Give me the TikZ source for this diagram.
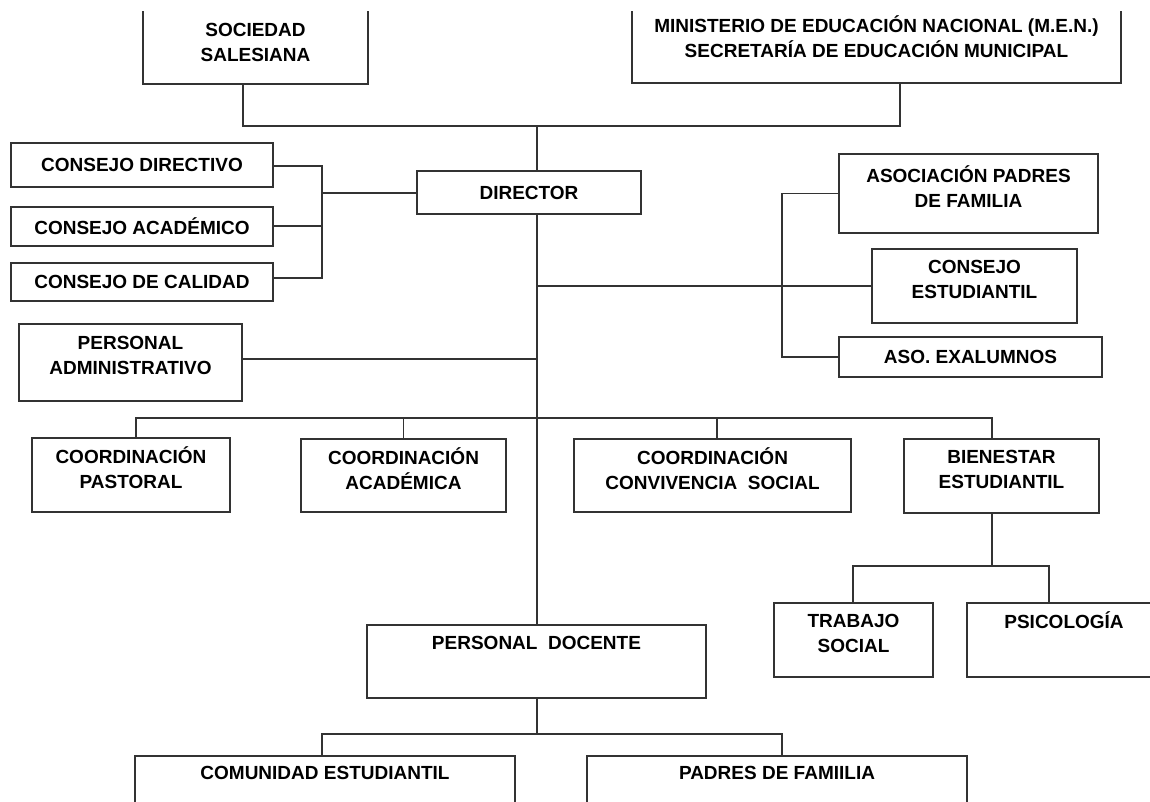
\documentclass[tikz,border=0pt]{standalone}
\usepackage{fontspec}
\setmainfont{Liberation Sans}
\usepackage{tikz}

\begin{document}
\begin{tikzpicture}[x=1pt,y=-1pt,
org/.style={draw=black!80, line width=1.2pt, rectangle, inner sep=0pt,
    align=center, font=\fontsize{19}{25}\selectfont\bfseries},
toptext/.style={text height=13pt, text depth=#1},
twoline/.style={text depth=14pt},
link/.style={draw=black!80, line width=1.2pt}]
\useasboundingbox (0,0) rectangle (1150,802);
\clip (0,11.5) rectangle (1150,802);

% top level
\node (soc) [org, minimum width=225, minimum height=83] at (255.5,42.5) {SOCIEDAD\\SALESIANA};
\node (men) [org, minimum width=489, minimum height=92] at (876.5,37)
	{MINISTERIO DE EDUCACIÓN NACIONAL (M.E.N.)\\SECRETARÍA DE EDUCACIÓN MUNICIPAL};

% consejos and director
\node (cdir) [org, minimum width=262, minimum height=44] at (142,165) {CONSEJO DIRECTIVO};
\node (cacad) [org, minimum width=262, minimum height=39] at (142,226.5) {CONSEJO ACADÉMICO};
\node (ccal) [org, minimum width=262, minimum height=38] at (142,282) {CONSEJO DE CALIDAD};
\node (dir) [org, minimum width=224, minimum height=43] at (529,192.5) {DIRECTOR};

% right side
\node (apf) [org, twoline, minimum width=259, minimum height=79] at (968.5,193.5) {ASOCIACIÓN PADRES\\DE FAMILIA};
\node (cest) [org, twoline, minimum width=205, minimum height=74] at (974.5,286) {CONSEJO\\ESTUDIANTIL};
\node (exa) [org, minimum width=263, minimum height=40] at (970.5,357) {ASO. EXALUMNOS};
\node (padm) [org, twoline, minimum width=223, minimum height=77] at (130.5,362.5) {PERSONAL\\ADMINISTRATIVO};

% coordinaciones
\node (cpas) [org, twoline, minimum width=198, minimum height=74] at (131,475) {COORDINACIÓN\\PASTORAL};
\node (caca) [org, twoline, minimum width=205, minimum height=73] at (403.5,475.5) {COORDINACIÓN\\ACADÉMICA};
\node (cconv) [org, twoline, minimum width=277, minimum height=73] at (712.5,475.5) {COORDINACIÓN\\CONVIVENCIA~~SOCIAL};
\node (bien) [org, twoline, minimum width=195, minimum height=74] at (1001.5,476) {BIENESTAR\\ESTUDIANTIL};
\node (tsoc) [org, twoline, minimum width=159, minimum height=74] at (853.5,640) {TRABAJO\\SOCIAL};
\node (psi) [org, toptext=36pt, minimum width=194, minimum height=74] at (1064,640) {PSICOLOGÍA};

% docentes
\node (pdoc) [org, toptext=37pt, minimum width=339, minimum height=73] at (536.5,661.5) {PERSONAL~~DOCENTE};
\node (comu) [org, toptext=40pt, minimum width=380, minimum height=74] at (325,793) {COMUNIDAD ESTUDIANTIL};
\node (padres) [org, toptext=40pt, minimum width=380, minimum height=74] at (777,793) {PADRES DE FAMIILIA};

\coordinate (top) at (537,126);
\coordinate (cbr) at (322,193);
\coordinate (rbr) at (782,286);
\coordinate (br) at (537,418);
\coordinate (bj) at (992,566);
\coordinate (dj) at (537,734);

\path[link] ([xshift=-12.5pt]soc.south) |- (top) -| ([xshift=23.5pt]men.south);
\path[link] (top) -- (top |- dir.north);
\path[link] ([yshift=-1pt]cdir.east) -| (cbr) |- ([yshift=4pt]ccal.east);
\path[link] ([yshift=0.5pt]cacad.east) -- ([yshift=0.5pt]cacad.east -| cbr);
\path[link] (cbr) -- (cbr -| dir.west);
\path[link] (top |- dir.south) -- (top |- pdoc.north);
\path[link] (apf.west) -| (rbr) |- (exa.west);
\path[link] (rbr -| top) -- (cest.west);
\path[link] ([yshift=3.5pt]padm.east) -- ([yshift=3.5pt]padm.east -| top);
\path[link] ([xshift=5pt]cpas.north) |- (br) -| ([xshift=-9.5pt]bien.north);
\path[link] (caca.north) -- (caca.north |- br);
\path[link] ([xshift=4.5pt]cconv.north) -- ([xshift=4.5pt]cconv.north |- br);
\path[link] ([xshift=-9.5pt]bien.south) -- (bj);
\path[link] ([xshift=-0.5pt]tsoc.north) |- (bj) -| ([xshift=-15pt]psi.north);
\path[link] (pdoc.south -| top) -- (dj);
\path[link] ([xshift=-3pt]comu.north) |- (dj) -| ([xshift=5pt]padres.north);
\end{tikzpicture}
\end{document}
